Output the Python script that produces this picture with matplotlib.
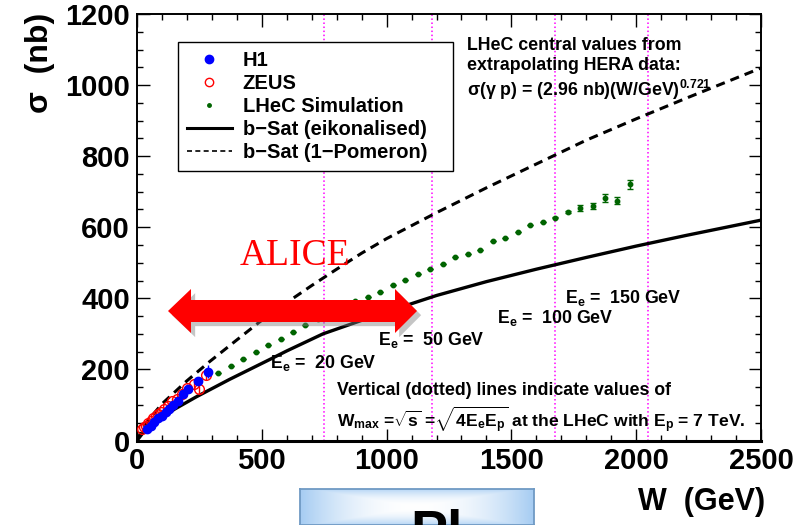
import numpy as np
import matplotlib
matplotlib.use('Agg')
import matplotlib.pyplot as plt
import matplotlib.patheffects as pe
from matplotlib.patches import Polygon
from matplotlib.lines import Line2D

plt.rcParams['font.family'] = ['Liberation Sans', 'DejaVu Sans']
plt.rcParams['font.weight'] = 'bold'
plt.rcParams['mathtext.fontset'] = 'custom'
plt.rcParams['mathtext.rm'] = 'Liberation Sans'
plt.rcParams['mathtext.bf'] = 'Liberation Sans:bold'
plt.rcParams['mathtext.it'] = 'Liberation Sans:bold'
plt.rcParams['mathtext.default'] = 'bf'

# HERA data
h1_w = [40, 55, 70, 85, 100, 115, 130, 145, 165, 185, 205, 245, 285]
h1_sigma = [33, 42, 52, 62, 70, 80, 90, 100, 112, 130, 145, 168, 194]
h1_err = [3, 3, 4, 4, 5, 5, 6, 7, 8, 10, 10, 12, 18]

zeus_w = [22, 30, 37, 45, 55, 65, 75, 85, 95, 110, 125, 140, 160, 180, 200, 230, 250, 275]
zeus_sigma = [32, 38, 42, 48, 55, 62, 68, 74, 80, 88, 98, 110, 118, 130, 148, 158, 145, 185]
zeus_err = [4, 4, 4, 5, 5, 5, 6, 6, 6, 7, 8, 9, 10, 12, 12, 14, 14, 16]

# LHeC simulated points
lhec_w = [325, 375, 425, 475, 525, 575, 625, 675, 725, 775, 825, 875, 925, 975,
          1025, 1075, 1125, 1175, 1225, 1275, 1325, 1375, 1425, 1475, 1525, 1575,
          1625, 1675, 1725, 1775, 1825, 1875, 1925, 1975]
lhec_sigma = [191, 209, 228, 250, 269, 285, 304, 325, 343, 360, 376, 392, 405, 417,
              438, 452, 468, 483, 496, 517, 525, 537, 562, 570, 587, 605,
              615, 627, 643, 655, 660, 683, 675, 721]
lhec_err = [0, 0, 0, 0, 0, 0, 0, 0, 0, 0, 0, 0, 0, 0,
            0, 0, 0, 0, 0, 0, 0, 0, 0, 0, 0, 0,
            0, 2, 3, 8, 9, 11, 10, 13]

# b-Sat model curves
eik_w = [0, 20, 50, 100, 150, 238, 371, 532, 600, 745, 900, 1000, 1100, 1200, 1400,
         1600, 1800, 2000, 2200, 2500]
eik_sigma = [0, 18, 38, 64, 88, 123, 172, 228, 252, 300, 338, 362, 385, 408, 447,
             482, 515, 547, 577, 620]
pom_w = [0, 20, 50, 100, 200, 291, 400, 492, 600, 700, 800, 900, 1000, 1200, 1400,
         1600, 1800, 2000, 2200, 2500]
pom_sigma = [0, 30, 61, 103, 168, 222, 283, 334, 388, 436, 482, 527, 568, 641, 711,
             778, 845, 905, 963, 1048]

# W_max = sqrt(4 Ee Ep) lines
ee_labels = ['20', '50', '100', '150']
wmax = [748, 1183, 1673, 2049]

fig = plt.figure(figsize=(8.08, 5.25), dpi=100)
ax = fig.add_axes([137/808, 1-440.5/525, 624/808, 426.5/525])

for w in wmax:
  ax.axvline(w, color='#ff00ff', ls=':', lw=1.1, zorder=1)

ax.plot(pom_w, pom_sigma, color='black', ls=(0, (3, 2)), lw=2.2, zorder=2)
ax.plot(eik_w, eik_sigma, color='black', lw=2.4, zorder=2)

ax.errorbar(zeus_w, zeus_sigma, yerr=zeus_err, fmt='o', mfc='none', mec='red',
            ecolor='red', ms=7, mew=1, elinewidth=1, zorder=3)
ax.errorbar(h1_w, h1_sigma, yerr=h1_err, fmt='o', color='blue', ms=6,
            elinewidth=1, zorder=4)
ax.errorbar(lhec_w, lhec_sigma, yerr=lhec_err, fmt='o', color='#006400', ms=3.2,
            elinewidth=1, capsize=2, zorder=4)

ax.set_xlim(0, 2500)
ax.set_ylim(0, 1200)
ax.set_xticks([0, 500, 1000, 1500, 2000, 2500])
ax.set_xticks(np.arange(0, 2501, 100), minor=True)
ax.set_yticks([0, 200, 400, 600, 800, 1000, 1200])
ax.set_yticks(np.arange(0, 1201, 50), minor=True)
ax.tick_params(which='both', direction='in', top=True, right=True, width=1)
ax.tick_params(which='major', length=9, labelsize=21, pad=5)
ax.tick_params(which='minor', length=4.5)
for lab in ax.get_xticklabels() + ax.get_yticklabels():
  lab.set_fontweight('bold')
for s in ax.spines.values():
  s.set_linewidth(1.4)
ax.spines['bottom'].set_linewidth(2.2)

fig.text(40/808, 1-13/525, 'σ  (nb)', rotation=90, ha='center', va='top', fontsize=23)
fig.text(765/808, 1-502/525, 'W  (GeV)', ha='right', va='center', fontsize=22)

# legend
handles = [
  Line2D([], [], ls='none', marker='o', color='blue', ms=6),
  Line2D([], [], ls='none', marker='o', mfc='none', mec='red', ms=6),
  Line2D([], [], ls='none', marker='o', color='#006400', ms=2.5),
  Line2D([], [], color='black', lw=2.2),
  Line2D([], [], color='black', lw=1.2, ls=(0, (3, 2))),
]
labels = ['H1', 'ZEUS', 'LHeC Simulation', 'b\u2212Sat (eikonalised)', 'b\u2212Sat (1\u2212Pomeron)']
leg = ax.legend(handles, labels, loc='upper left', bbox_to_anchor=(0.066, 0.625, 0.441, 0.31),
                mode='expand', fontsize=14.5, frameon=True, fancybox=False, edgecolor='black',
                framealpha=1, handlelength=2.2, handletextpad=0.55, labelspacing=0.2,
                borderpad=0.45, borderaxespad=0)
leg.get_frame().set_linewidth(1)

# annotations
ax.text(0.529, 0.927, 'LHeC central values from', transform=ax.transAxes,
        fontsize=12.8, va='center')
ax.text(0.529, 0.880, 'extrapolating HERA data:', transform=ax.transAxes,
        fontsize=12.8, va='center')
ax.text(0.529, 0.822, r'$\mathrm{\sigma(\gamma}$ p) = (2.96 nb)(W/GeV)$^{0.721}$',
        transform=ax.transAxes, fontsize=12.8, va='center')
ax.text(0.3205, 0.118, 'Vertical (dotted) lines indicate values of',
        transform=ax.transAxes, fontsize=12.8, va='center')
ax.text(0.3205, 0.048, r'W$_{max}$ =$\sqrt{s}$ =$\sqrt{4E_eE_p}$ at the LHeC with E$_p$ = 7 TeV.',
        transform=ax.transAxes, fontsize=12.6, va='center')

ee_pos = [(533, 218), (966, 283), (1442, 345), (1714, 401)]
for lab, (x, y) in zip(ee_labels, ee_pos):
  ax.text(x, y, r'E$_e$ =  ' + lab + ' GeV', fontsize=12.8, va='center')

# ALICE overlay
fig.text(295/808, 1-256/525, 'ALICE', family=['Liberation Serif', 'DejaVu Serif'],
         fontweight='normal', color='red', fontsize=27, ha='center', va='center')
arrow_px = [(168, 311), (191, 289), (191, 300), (395, 300), (395, 289), (417, 311),
            (395, 333), (395, 322), (191, 322), (191, 333)]
arrow = Polygon([(x/808, 1-y/525) for x, y in arrow_px], closed=True,
                transform=fig.transFigure, facecolor='#ff0000', edgecolor='none', zorder=10,
                path_effects=[pe.SimplePatchShadow(offset=(3, -3), shadow_rgbFace='gray', alpha=0.45),
                              pe.Normal()])
fig.patches.append(arrow)

# slide box cut off at the bottom
bx = fig.add_axes([300/808, 0, 234/808, 36/525])
xx = np.linspace(-1, 1, 200)
yy = np.linspace(-1, 1, 60)
X, Y = np.meshgrid(xx, yy)
g = np.clip(np.maximum(np.abs(X), np.abs(Y) * 0.9), 0, 1) ** 2
img = np.dstack([1 - 0.35 * g, 1 - 0.2 * g, 1 - 0.05 * g])
bx.imshow(img, aspect='auto', extent=(0, 1, 0, 1))
bx.set_xticks([])
bx.set_yticks([])
for s in bx.spines.values():
  s.set_color('#6f9ac4')
  s.set_linewidth(1.3)
bx.text(0.47, 0.45, 'Pl', fontsize=40, va='top', ha='left', transform=bx.transAxes)

fig.savefig('out.png', dpi=100)
